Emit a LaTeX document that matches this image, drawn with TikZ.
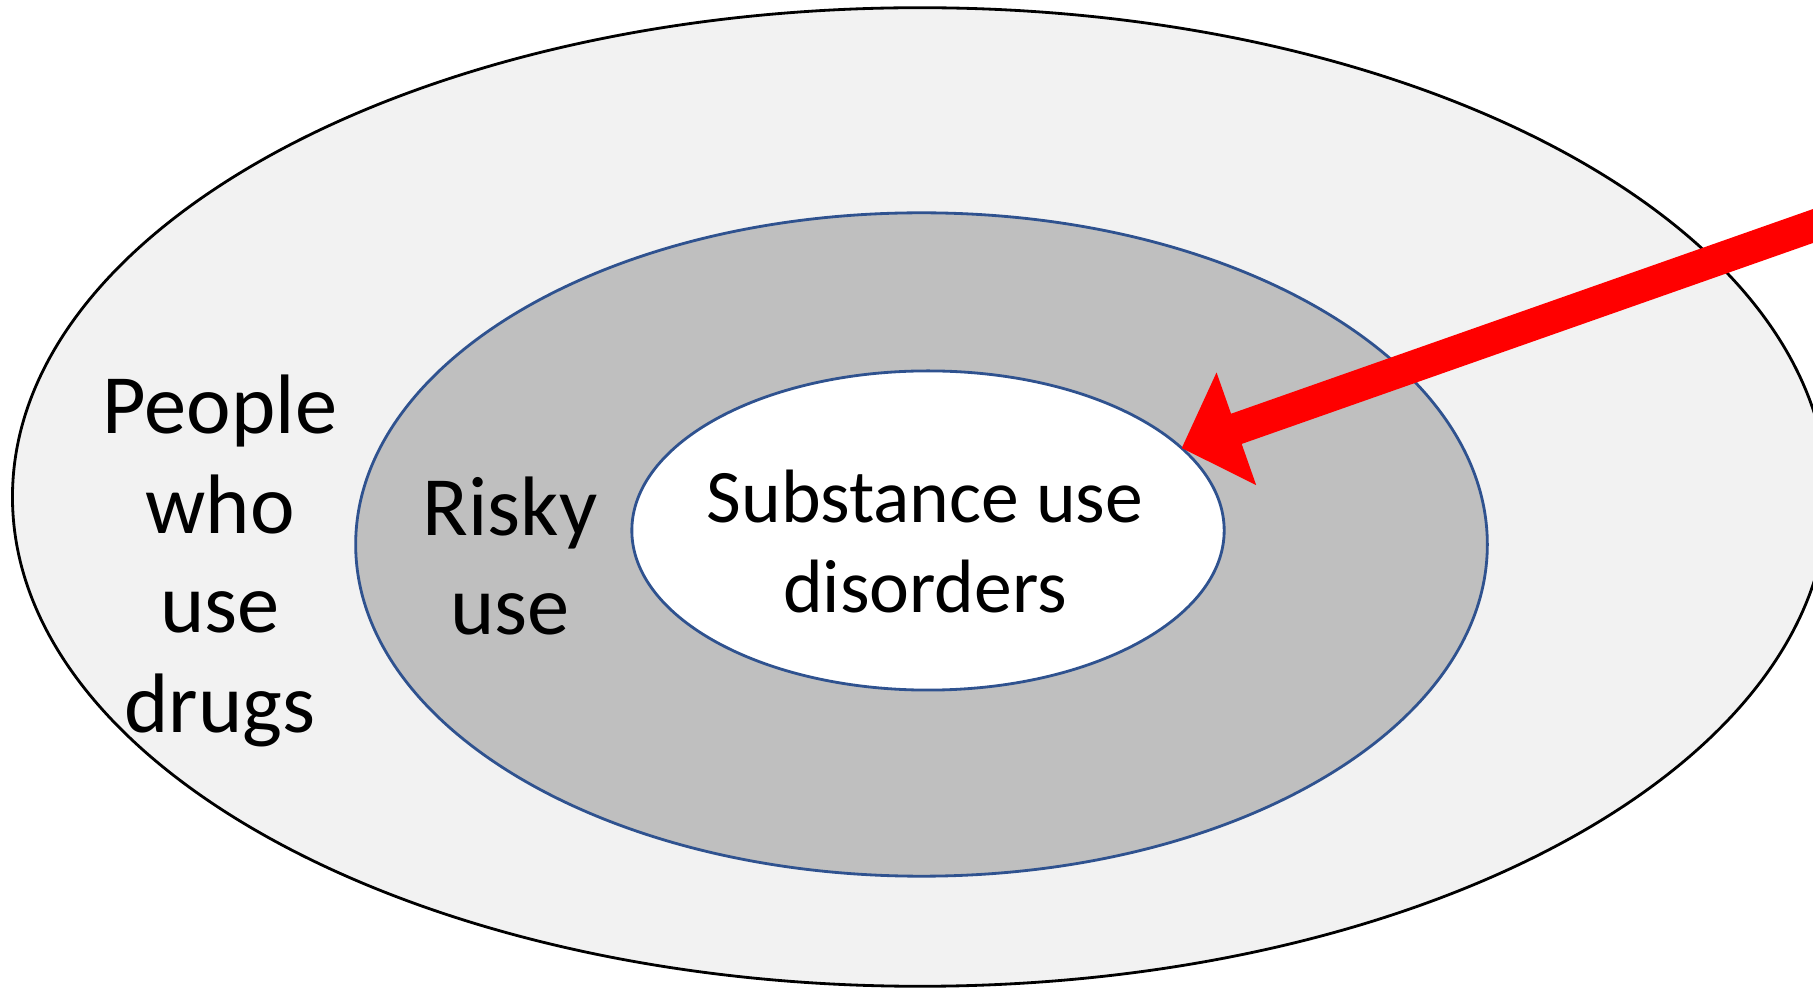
\documentclass[tikz,border=0pt]{standalone}
\usepackage{fontspec}
\setmainfont{Carlito}
\usetikzlibrary{shapes,arrows.meta,positioning,calc}
\definecolor{ringblue}{RGB}{47,82,143}
\definecolor{outergray}{RGB}{242,242,242}
\definecolor{midgray}{RGB}{191,191,191}

\begin{document}
\begin{tikzpicture}[x=0.01cm,y=-0.01cm,
	ring/.style={ellipse,draw,inner sep=0pt,outer sep=0pt},
	lbl/.style={align=center,inner sep=0pt,font=\fontsize{24pt}{28.4pt}\selectfont}]
\useasboundingbox (0,0) rectangle (1813,989);
\clip (0,0) rectangle (1813,989);

\node [ring,fill=outergray,line width=0.8pt,minimum width=18.14cm,minimum height=9.78cm] (drugs) at (920,497) {};
\node [ring,draw=ringblue,fill=midgray,line width=0.8pt,minimum width=11.31cm,minimum height=6.63cm] (risky) at (921.5,544.5) {};
\node [ring,draw=ringblue,fill=white,line width=0.8pt,minimum width=5.92cm,minimum height=3.19cm] (sud) at (928,530.5) {};

\node [lbl] (drugstext) at (220,561) {People\\who\\use\\drugs};
\node [lbl] (riskytext) at (510,556) {Risky\\use};
\node [lbl,font=\fontsize{21.5pt}{25.6pt}\selectfont] (sudtext) at (925,542) {Substance use\\disorders};

\coordinate (tail) at (1850,213);
\draw [-{Triangle[length=0.58cm,width=1.16cm]},line width=0.32cm,red] (tail) -- (sud.18);
\end{tikzpicture}
\end{document}
